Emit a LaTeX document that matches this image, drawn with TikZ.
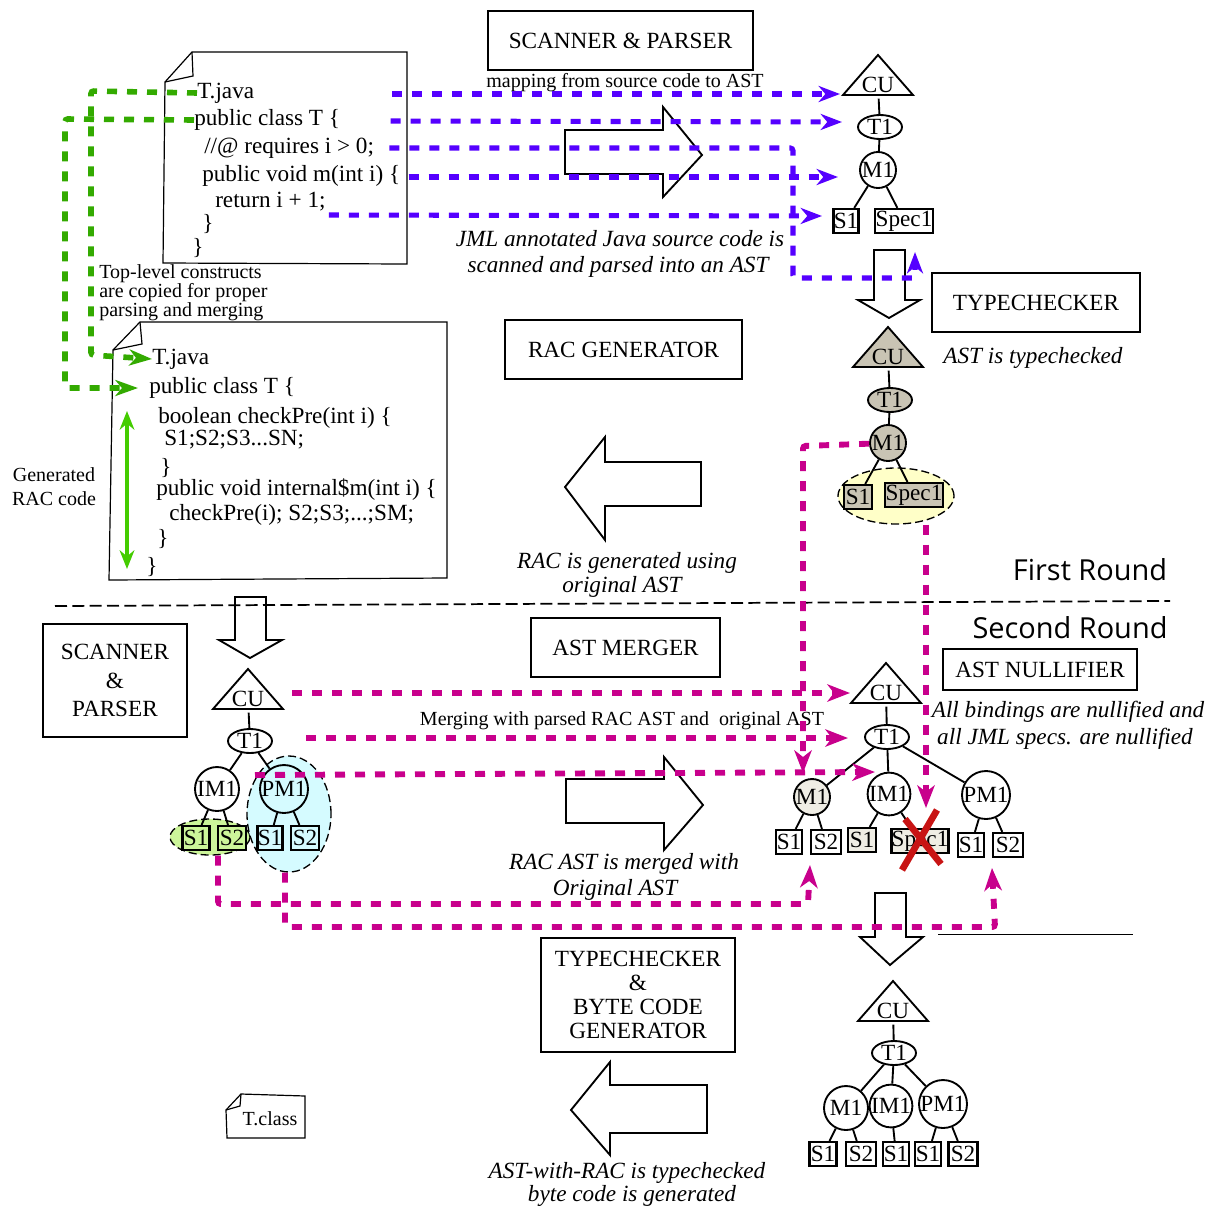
\documentclass[tikz,border=0pt]{standalone}
\usepackage{fontspec}
\setmainfont{Liberation Serif}
\newfontfamily\roundfont{Open Sans}
\usetikzlibrary{arrows.meta,shapes.geometric}

\definecolor{bluedashcol}{HTML}{5500FF}
\definecolor{greendashcol}{HTML}{33AA00}
\definecolor{greenarrowcol}{HTML}{44CC00}
\definecolor{pinkdashcol}{HTML}{C8008C}
\definecolor{tancol}{HTML}{C9C4B4}
\definecolor{palecol}{HTML}{EFEDE4}
\definecolor{yellowcol}{HTML}{FFFFC8}
\definecolor{aquacol}{HTML}{D5FBFF}
\definecolor{limecol}{HTML}{CCF59A}
\definecolor{crosscol}{HTML}{C81414}

\tikzset{
    bigtext/.style={font=\fontsize{17.4}{20}\selectfont},
    smalltext/.style={font=\fontsize{15}{17}\selectfont, yshift=-1.5pt},
    codetext/.style={bigtext, anchor=west, inner sep=0pt, yshift=-1.5pt},
    notetext/.style={font=\fontsize{17.4}{20}\selectfont\itshape, inner sep=0pt, yshift=-1.5pt},
    phasebox/.style={draw, line width=1.5pt, bigtext, align=center, inner sep=0pt},
    treeline/.style={line width=1.4pt},
    circlenode/.style={draw, circle, line width=1.4pt, bigtext, inner sep=0pt},
    typenode/.style={draw, ellipse, line width=1.4pt, bigtext, inner sep=0pt, minimum width=33pt, minimum height=18pt},
    leafnode/.style={draw, line width=1.6pt, bigtext, inner sep=0pt, minimum height=18pt},
    docpage/.style={draw, line width=0.9pt},
    blockarrow/.style={draw, line width=1.4pt, line join=miter},
    blobnode/.style={draw, ellipse, dash pattern=on 6pt off 3pt, line width=1pt, inner sep=0pt},
    bluedash/.style={draw=bluedashcol, line width=3.8pt, dash pattern=on 7.5pt off 7.5pt, -{Stealth[length=16pt,width=12pt,inset=5pt]}, bluedashcol},
    greendash/.style={draw=greendashcol, line width=4.2pt, dash pattern=on 7.5pt off 7.5pt, -{Stealth[length=17pt,width=12pt,inset=5pt]}, greendashcol},
    pinkdash/.style={draw=pinkdashcol, line width=4.4pt, dash pattern=on 7.5pt off 7.5pt, -{Stealth[length=17pt,width=13pt,inset=5pt]}, pinkdashcol}
}

\begin{document}
\begin{tikzpicture}[x=0.75pt,y=-0.75pt]
    \useasboundingbox (0,0) rectangle (1217,1207);

    \def \stmtlbl{S1;S2;S3...SN;}
    \def \calllbl{checkPre(i); S2;S3;...;SM;}

    % blobs behind the trees
    \node (yellowblob) at (896,496) [blobnode, fill=yellowcol, minimum width=87pt, minimum height=42pt] {};
    \node (limeblob) at (210,837) [blobnode, fill=limecol, minimum width=60pt, minimum height=27pt] {};
    \node (aquablob) at (289,814) [blobnode, fill=aquacol, minimum width=63pt, minimum height=87pt] {};

    % pages
    \draw[docpage] (165,82) -- (192,52) -- (407,52) -- (407,264) -- (163,263) -- cycle;
    \draw[docpage] (165,82) -- (193,76) -- (192,52);
    \draw[docpage] (113,350) -- (140,322) -- (447,322) -- (447,578) -- (109,580) -- cycle;
    \draw[docpage] (113,350) -- (142,344) -- (140,322);
    \draw[docpage] (226,1110) -- (241,1094) -- (305,1096) -- (305,1138) -- (227,1138) -- cycle;
    \draw[docpage] (226,1110) -- (240,1106) -- (241,1094);

    % page texts
    \foreach \nm/\x/\y/\lbl in {
        javaa/197/91/T.java,
        classa/194/118/public class T \{,
        reqa/204/146/{//@ requires i > 0;},
        voida/202/174/public void m(int i) \{,
        reta/215/200/return i + 1;,
        closea/202/222/\},
        closeb/192/246/\},
        javab/152/357/T.java,
        classb/149/386/public class T \{,
        boolb/158/416/boolean checkPre(int i) \{,
        stmtb/164/438/\stmtlbl,
        closec/160/466/\},
        voidb/156/488/public void internal\$m(int i) \{,
        callb/169/513/\calllbl,
        closed/157/537/\},
        closee/146/565/\}} {
        \node (\nm) at (\x,\y) [codetext] {\lbl};
    }

    % block arrows
    \draw[blockarrow] (565,130) -- (663,130) -- (663,107) -- (702,155) -- (663,197) -- (663,174) -- (565,174) -- cycle;
    \draw[blockarrow] (701,462) -- (605,462) -- (605,437) -- (565,487) -- (605,540) -- (605,506) -- (701,506) -- cycle;
    \draw[blockarrow] (566,779) -- (664,779) -- (664,757) -- (703,805) -- (664,850) -- (664,823) -- (566,823) -- cycle;
    \draw[blockarrow] (707,1085) -- (610,1085) -- (610,1062) -- (571,1110) -- (610,1155) -- (610,1133) -- (707,1133) -- cycle;
    \draw[blockarrow] (874,250) -- (905,250) -- (905,300) -- (920,300) -- (889,318) -- (858,300) -- (874,300) -- cycle;
    \draw[blockarrow] (235,597) -- (266,597) -- (266,640) -- (282,640) -- (250,658) -- (219,640) -- (235,640) -- cycle;
    \draw[blockarrow] (875,893) -- (906,893) -- (906,937) -- (923,937) -- (890,965) -- (860,937) -- (875,937) -- cycle;

    % rounds
    \draw[dashed, line width=1.3pt, dash pattern=on 9pt off 4pt] (55,606) -- (1170,601);
    \draw[line width=0.7pt] (938,934) -- (1133,934);
    \node (firstround) at (1090,570) {\roundfont\fontsize{21.7}{24}\selectfont First Round};
    \node (secondround) at (1070,628) {\roundfont\fontsize{21.7}{24}\selectfont Second Round};

    % phase boxes
    \node (scanbox) at (620.5,40.5) [phasebox, minimum width=199pt, minimum height=44pt] {SCANNER \& PARSER};
    \node (typebox) at (1036,302.5) [phasebox, minimum width=156pt, minimum height=44pt] {TYPECHECKER};
    \node (racbox) at (623.5,349.5) [phasebox, minimum width=178pt, minimum height=44pt] {RAC GENERATOR};
    \node (scanboxb) at (115,680.5) [phasebox, minimum width=108pt, minimum height=85pt] {SCANNER\\[1.5pt]\&\hspace{7.5pt}\\[1.5pt]PARSER\hspace{4.5pt}};
    \node (mergebox) at (625.5,647.5) [phasebox, minimum width=142pt, minimum height=44pt] {AST MERGER};
    \node (nullbox) at (1040,669.5) [phasebox, minimum width=146pt, minimum height=31pt] {AST NULLIFIER};
    \node (bytebox) at (638,995) [phasebox, minimum width=146pt, minimum height=85pt, font=\fontsize{17.4}{17.8}\selectfont] {TYPECHECKER\hspace{3pt}\\\&\hspace{15pt}\\BYTE CODE\hspace{6pt}\\GENERATOR\hspace{9pt}};

    % notes
    \node (mapnote) at (625,81) [smalltext, inner sep=0pt] {mapping from source code to AST};
    \node (jmlnote) at (620,237) [notetext] {JML annotated Java source code is};
    \node (jmlnoteb) at (618,265) [notetext] {scanned and parsed into an AST};
    \node (typednote) at (1033,356) [notetext] {AST is typechecked};
    \node (racnote) at (627,561) [notetext] {RAC is generated using};
    \node (racnoteb) at (622,585) [notetext] {original AST};
    \node (nullnote) at (1068,710) [notetext] {All bindings are nullified and};
    \node (nullnoteb) at (1065,737) [notetext] {all JML specs. are nullified};
    \node (mergenote) at (622,719) [smalltext, inner sep=0pt] {Merging with parsed RAC AST and \ original AST};
    \node (mergednote) at (624,862) [notetext] {RAC AST is merged with};
    \node (mergednoteb) at (615,888) [notetext] {Original AST};
    \node (bytenote) at (627,1171) [notetext] {AST-with-RAC is typechecked};
    \node (bytenoteb) at (632,1194) [notetext] {byte code is generated};
    \node (copynote) at (99,272) [smalltext, anchor=west, inner sep=0pt] {Top-level constructs};
    \node (copynoteb) at (99,291) [smalltext, anchor=west, inner sep=0pt] {are copied for proper};
    \node (copynotec) at (99,310) [smalltext, anchor=west, inner sep=0pt] {parsing and merging};
    \node (gennote) at (54,473) [smalltext, inner sep=0pt] {Generated};
    \node (gennoteb) at (54,497) [smalltext, inner sep=0pt] {RAC code};
    \node (classnote) at (270,1117) [smalltext, inner sep=0pt] {T.class};

    % compilation units
    \foreach \nm/\x/\y/\col in {cua/878/95/white, cub/888/367/tancol, cuc/248/709/white, cud/886/703/white, cue/893/1021/white} {
        \draw[line width=1.4pt, fill=\col] (\x-35,\y) -- (\x,\y-40) -- (\x+35,\y) -- cycle;
        \node (\nm) at (\x,\y-10) [bigtext, inner sep=0pt, minimum height=20pt] {CU};
    }

    % types
    \foreach \nm/\x/\y/\col in {ta/880/127/white, tb/890/400/tancol, tc/250/741/white, td/887/737/white, te/894/1053/white} {
        \node (\nm) at (\x,\y) [typenode, fill=\col] {T1};
    }

    % methods
    \foreach \nm/\x/\y/\r/\lbl/\col in {
        ma/878/170/18/M1/white,
        mb/888/443/18/M1/tancol,
        imc/217/789/22/IM1/white,
        pmc/284/789/24/PM1/aquacol,
        md/812/797/18/M1/palecol,
        imd/889/794/21/IM1/white,
        pmd/986/795/24/PM1/white,
        me/846/1108/22/M1/white,
        ime/891/1106/21/IM1/white,
        pme/943/1104/24/PM1/white} {
        \node (\nm) at (\x,\y) [circlenode, fill=\col, minimum size=2*\r*0.75pt] {\lbl};
    }

    % statements
    \foreach \nm/\x/\y/\w/\lbl/\col in {
        sa/846/221/25/S1/white,
        speca/904/221/58/Spec1/white,
        sb/858/497/28/S1/tancol,
        specb/914/495/58/Spec1/tancol,
        sca/196/838/27/S1/limecol,
        scb/232/838/28/S2/limecol,
        scc/270/838/25/S1/aquacol,
        scd/305/838/28/S2/aquacol,
        sda/789/842/26/S1/white,
        sdb/826/842/30/S2/white,
        sdc/862/840/28/S1/palecol,
        specd/920/841/57/Spec1/palecol,
        sdd/971/845/26/S1/white,
        sde/1008/845/30/S2/white,
        sea/823/1154/27/S1/white,
        seb/861/1154/30/S2/white,
        sec/896/1154/26/S1/white,
        sed/928/1154/26/S1/white,
        see/963/1154/29/S2/white} {
        \node (\nm) at (\x,\y) [leafnode, fill=\col, minimum width=\w*0.75pt] {\lbl};
    }

    % tree lines
    \foreach \a/\b in {
        cua/ta, ta/ma, ma/sa, ma/speca,
        cub/tb, tb/mb, mb/sb, mb/specb,
        cuc/tc, tc/imc, tc/pmc, imc/sca, imc/scb, pmc/scc, pmc/scd,
        cud/td, td/md, td/imd, td/pmd, md/sda, md/sdb, imd/sdc, imd/specd, pmd/sdd, pmd/sde,
        cue/te, te/me, te/ime, te/pme, me/sea, me/seb, ime/sec, pme/sed, pme/see} {
        \draw[treeline] (\a) -- (\b);
    }

    % free ends of the dashed lines
    \foreach \nm/\x/\y in {
        blueaa/392/94, blueab/840/94,
        bluebb/842/122,
        bluecc/793/148, bluecd/793/278, bluece/915/278, bluecf/915/252,
        bluedb/838/177,
        blueeb/822/216,
        greenab/91/91, greenac/91/355,
        greenbb/65/119, greenbc/65/388, greenbd/138/388,
        pinkaa/803/446, pinkab/803/773,
        pinkbb/926/808,
        pinkca/292/693, pinkcb/850/693,
        pinkda/306/738, pinkdb/848/738,
        pinkea/255/775, pinkeb/875/772,
        pinkfa/218/904, pinkfb/808/904, pinkfc/810/865,
        pinkga/285/927, pinkgb/995/927, pinkgc/992/868} {
        \coordinate (\nm) at (\x,\y);
    }

    % blue lines
    \draw[bluedash] (blueaa) -- (blueab);
    \draw[bluedash] (voida.east |- classa) ++(-10,1) -- (bluebb);
    \draw[bluedash, rounded corners=2pt] (reqa.east) ++(15,0) -- (bluecc) -- (bluecd) -- (bluece) -- (bluecf);
    \draw[bluedash] (voida.east) ++(8,1) -- (bluedb);
    \draw[bluedash] (reta.east) ++(3,13) -- (blueeb);

    % green lines
    \draw[greendash, rounded corners=2pt] (javaa.west) -- (greenab) -- (greenac) -- (javab.west);
    \draw[greendash, rounded corners=2pt] (classa.west) -- (greenbb) -- (greenbc) -- (greenbd);
    \draw[greenarrowcol, line width=3.6pt, {Stealth[length=14pt,width=11pt]}-{Stealth[length=14pt,width=11pt]}] (127,411) -- (127,569);

    % pink lines
    \draw[pinkdash, rounded corners=2pt] (mb) -- (pinkaa) -- (pinkab);
    \draw[pinkdash] (yellowblob.south -| pinkbb) -- (pinkbb);
    \draw[pinkdash] (pinkca) -- (pinkcb);
    \draw[pinkdash] (pinkda) -- (pinkdb);
    \draw[pinkdash] (pinkea) -- (pinkeb);
    \draw[pinkdash, rounded corners=2pt] (limeblob.south -| pinkfa) -- (pinkfa) -- (pinkfb) -- (pinkfc);
    \draw[pinkdash, rounded corners=2pt] (aquablob.south -| pinkga) -- (pinkga) -- (pinkgb) -- (pinkgc);

    % cross over the spec
    \draw[crosscol, line width=5pt] (937,810) -- (902,870);
    \draw[crosscol, line width=5pt] (905,819) -- (941,864);
\end{tikzpicture}
\end{document}
